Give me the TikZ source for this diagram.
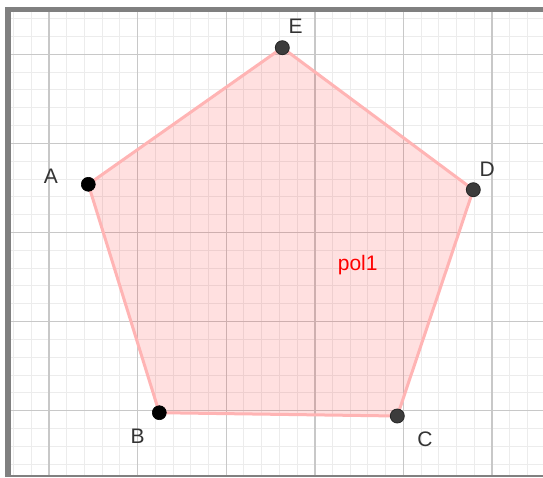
\documentclass[tikz,border=0pt]{standalone}
\usepackage{fontspec}
\newfontfamily\labfont{Liberation Sans}
\definecolor{minorgrid}{RGB}{236,236,236}
\definecolor{majorgrid}{RGB}{200,200,200}
\definecolor{framegray}{RGB}{128,128,128}
\definecolor{polyedge}{RGB}{255,180,180}
\definecolor{polyfill}{RGB}{255,0,0}
\definecolor{labgray}{RGB}{51,51,51}
\definecolor{ptgray}{RGB}{60,60,60}
\tikzset{
  minorline/.style={draw=minorgrid, line width=1pt},
  majorline/.style={draw=majorgrid, line width=1.4pt},
  polystyle/.style={draw=polyedge, fill=polyfill, fill opacity=0.12, line width=3pt, line join=round},
  blackpt/.style={circle, fill=black, draw=black, line width=0.6pt, minimum size=14pt, inner sep=0pt},
  graypt/.style={circle, fill=ptgray, draw=black!85, line width=0.8pt, minimum size=14pt, inner sep=0pt},
  ptlabel/.style={text=labgray, font=\labfont\fontsize{21}{25}\selectfont, inner sep=0pt},
  pollabel/.style={text=red, font=\labfont\fontsize{21}{25}\selectfont, inner sep=0pt}
}
\begin{document}
\begin{tikzpicture}[x=1pt,y=-1pt]
\useasboundingbox (0,0) rectangle (543,477);
\fill[white] (0,0) rectangle (543,477);
% grid
\begin{scope}
\clip (11,12) rectangle (543,475);
\foreach \k in {-2,...,28} {
  \draw[minorline] ({49+\k*17.72},12) -- ({49+\k*17.72},475);
}
\foreach \k in {-3,...,24} {
  \draw[minorline] (11,{54.3+\k*17.82}) -- (543,{54.3+\k*17.82});
}
\foreach \k in {0,...,5} {
  \draw[majorline] ({49+\k*88.6},12) -- ({49+\k*88.6},475);
}
\foreach \k in {0,...,4} {
  \draw[majorline] (11,{54.3+\k*89.1}) -- (543,{54.3+\k*89.1});
}
\end{scope}
% frame
\fill[framegray] (5,7) rectangle (11,477);
\fill[framegray] (5,7) rectangle (543,12);
\fill[framegray] (5,475) rectangle (543,477);
% polygon
\coordinate (A) at (88.3,184.3);
\coordinate (B) at (159.3,412.7);
\coordinate (C) at (397.3,416);
\coordinate (D) at (473.3,189.7);
\coordinate (E) at (282.3,47.7);
\path[polystyle] (A) -- (B) -- (C) -- (D) -- (E) -- cycle;
\node[pollabel] (pol) at (357.7,265) {pol1};
% points
\node[blackpt] (pA) at (A) {};
\node[blackpt] (pB) at (B) {};
\node[graypt] (pC) at (C) {};
\node[graypt] (pD) at (D) {};
\node[graypt] (pE) at (E) {};
% labels
\node[ptlabel] (lA) at (51,176) {A};
\node[ptlabel] (lB) at (137.7,436.7) {B};
\node[ptlabel] (lC) at (425,439) {C};
\node[ptlabel] (lD) at (487.3,169.3) {D};
\node[ptlabel] (lE) at (295.7,26.7) {E};
\end{tikzpicture}
\end{document}
